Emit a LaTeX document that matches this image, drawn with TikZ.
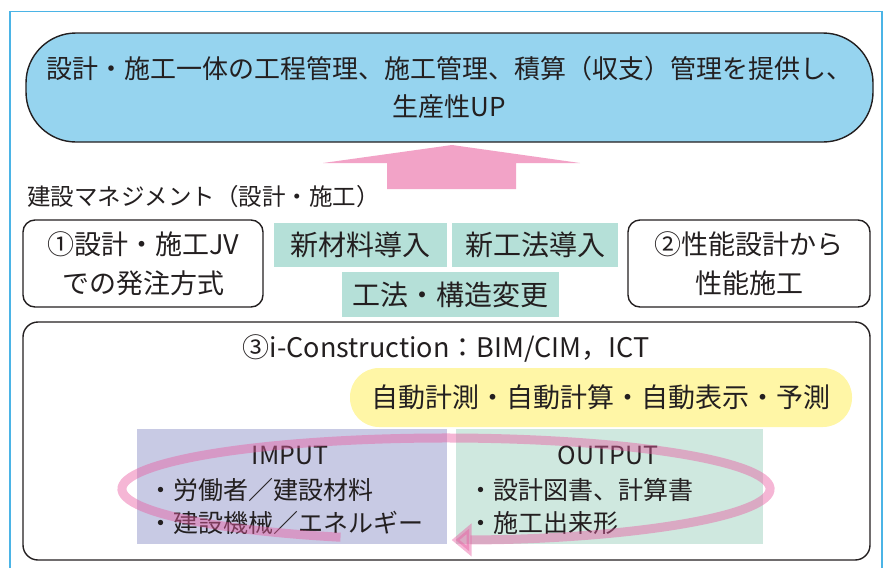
\documentclass[tikz,border=0pt]{standalone}
\usepackage{fontspec}
\setmainfont{Noto Sans CJK JP}
\usepackage{tikz}
\usetikzlibrary{arrows.meta}
\usepackage{xcolor}

\definecolor{inkgray}{RGB}{35,31,32}
\definecolor{framecol}{RGB}{75,180,230}
\definecolor{pillblue}{RGB}{150,212,239}
\definecolor{arrowpink}{RGB}{242,163,199}
\definecolor{tealfill}{RGB}{181,224,216}
\definecolor{yellowfill}{RGB}{255,246,166}
\definecolor{lavfill}{RGB}{200,202,228}
\definecolor{outfill}{RGB}{207,232,223}
\definecolor{looppink}{RGB}{232,94,162}

\tikzset{
  roundbox/.style={draw=inkgray, line width=1.4pt, rounded corners=12pt, align=center,
    inner sep=0pt, text=inkgray, font=\fontsize{27}{39}\selectfont},
  tealbox/.style={fill=tealfill, inner sep=0pt, text=inkgray, font=\fontsize{28}{34}\selectfont},
  areabox/.style={inner sep=0pt, minimum width=#1, minimum height=115pt},
  listtext/.style={anchor=west, inner sep=0pt, text=inkgray, font=\fontsize{25}{30}\selectfont},
  cycleloop/.style={draw=looppink, opacity=0.45, line width=9pt, -{Triangle[length=20pt, width=32pt]}}
}

\begin{document}
\begin{tikzpicture}[x=1pt,y=-1pt]
        \useasboundingbox (0,0) rectangle (885,568);
        \draw [framecol, line width=1.5pt] (10,568) -- (10,11.5) -- (882,11.5) -- (882,568);

        % goal
        \node [roundbox, fill=pillblue, rounded corners=50pt, font=\fontsize{26}{38}\selectfont,
          minimum width=847pt, minimum height=109pt] (goal) at (449.5,87.5)
          {設計・施工一体の工程管理、施工管理、積算（収支）管理を提供し、\\生産性UP};
        \fill [arrowpink] (452,145) -- (580,163) -- (516,163) -- (516,189)
          -- (387,189) -- (387,163) -- (323,163) -- cycle;

        % management
        \node [anchor=west, inner sep=0pt, text=inkgray, font=\fontsize{23.5}{28}\selectfont] (mgmt) at (27,197)
          {建設マネジメント（設計・施工）};
        \node [roundbox, minimum width=240pt, minimum height=87pt] (jv) at (143,263.5)
          {①設計・施工JV\\での発注方式};
        \node [roundbox, minimum width=242pt, minimum height=87pt] (perf) at (749,263.5)
          {②性能設計から\\性能施工};
        \node [tealbox, minimum width=173pt, minimum height=44pt] (newmat) at (360.5,245) {新材料導入};
        \node [tealbox, minimum width=166pt, minimum height=44pt] (newmeth) at (535,245) {新工法導入};
        \node [tealbox, minimum width=217pt, minimum height=45pt] (change) at (450.5,294.5) {工法・構造変更};

        % i-Construction
        \node [roundbox, rounded corners=15pt, minimum width=847pt, minimum height=238pt] (icon) at (446.5,441) {};
        \node [inner sep=0pt, text=inkgray, font=\fontsize{27}{32}\selectfont] (icontitle) at (446,348)
          {③i-Construction：BIM/CIM，ICT};
        \node [fill=yellowfill, rounded corners=29pt, minimum width=502pt, minimum height=59pt, inner sep=0pt,
          text=inkgray, font=\fontsize{27}{32}\selectfont] (auto) at (601,397.5)
          {自動計測・自動計算・自動表示・予測};
        \node [areabox=310pt, fill=lavfill] (inbox) at (292,486.5) {};
        \node [areabox=307pt, fill=outfill] (outbox) at (609.5,486.5) {};
        \node [inner sep=0pt, text=inkgray, font=\fontsize{25}{30}\selectfont] (intitle) at (290,455) {IMPUT};
        \node [inner sep=0pt, text=inkgray, font=\fontsize{25}{30}\selectfont] (outtitle) at (608,455) {OUTPUT};
        \node [listtext] (in1) at (148,490) {・労働者／建設材料};
        \node [listtext] (in2) at (148,523) {・建設機械／エネルギー};
        \node [listtext] (out1) at (468,490) {・設計図書、計算書};
        \node [listtext] (out2) at (468,523) {・施工出来形};

        % cycle
        \draw [cycleloop] (446,489) ++(109:324 and 51)
          arc [start angle=109, end angle=449, x radius=324, y radius=51];
    \end{tikzpicture}
\end{document}
